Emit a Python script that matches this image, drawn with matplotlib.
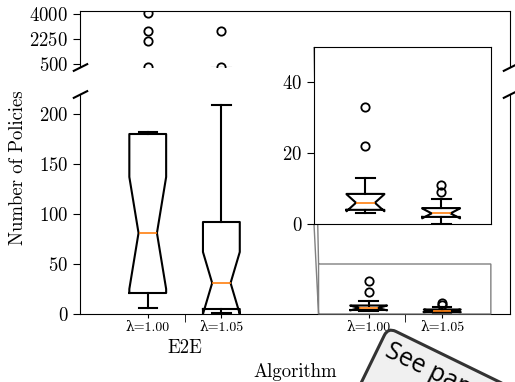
import numpy as np
import matplotlib
matplotlib.use("Agg")
import matplotlib.pyplot as plt
from matplotlib.transforms import blended_transform_factory

plt.rcParams['font.family'] = ['cmr10', 'DejaVu Serif']
plt.rcParams['mathtext.fontset'] = 'cm'
plt.rcParams['axes.formatter.use_mathtext'] = True

## data
positions = [1, 2, 4, 5]
tick_labels = ['λ=1.00', 'λ=1.05', 'λ=1.00', 'λ=1.05']
group_pos = [1.5, 4.5]
group_labels = ['E2E', '']

med = [81, 31, 6, 3]
q1 = [21, 5, 4, 2]
q3 = [180, 92, 8.5, 4.5]
whislo = [6, 1, 3, 0]
whishi = [182, 209, 13, 7]
cilo = [25, 0, 3.6, 1.6]
cihi = [137, 62, 8.4, 4.4]
fliers = [[4080, 2820, 2120, 260], [2830, 260], [22, 33], [9, 11]]

stats = []
for i in range(len(positions)):
    stats.append(dict(med=med[i], q1=q1[i], q3=q3[i], whislo=whislo[i], whishi=whishi[i],
                      cilo=cilo[i], cihi=cihi[i], fliers=np.array(fliers[i])))

W, H = 515, 382
fig = plt.figure(figsize=(W/100, H/100), dpi=100)
ax_top = fig.add_axes([80/W, 1-67/H, 430/W, 56/H])
ax_bot = fig.add_axes([80/W, 1-314/H, 430/W, 220/H])

lw = 1.5
bx_kw = dict(positions=positions, widths=0.5, shownotches=True,
             boxprops=dict(color='k', linewidth=lw),
             whiskerprops=dict(color='k', linewidth=lw),
             capprops=dict(color='k', linewidth=lw),
             medianprops=dict(color='#ff7f0e', linewidth=1.2),
             flierprops=dict(marker='o', markerfacecolor='none', markeredgecolor='k',
                             markersize=6, markeredgewidth=1.3))

for ax in (ax_top, ax_bot):
    ax.bxp(stats, **bx_kw)
    ax.set_xlim(0.08, 5.92)

ax_top.set_ylim(290, 4210)
ax_top.set_yticks([500, 2250, 4000])
ax_top.spines['bottom'].set_visible(False)
ax_top.tick_params(axis='x', which='both', bottom=False, labelbottom=False)
ax_top.tick_params(axis='y', labelsize=13.5, length=5)

ax_bot.set_ylim(0, 220)
ax_bot.set_yticks([0, 50, 100, 150, 200])
ax_bot.spines['top'].set_visible(False)
ax_bot.tick_params(axis='y', labelsize=13.5, length=5)
ax_bot.set_xticks(positions)
ax_bot.set_xticklabels(tick_labels, fontsize=10)
ax_bot.set_xticks(group_pos, minor=True)
ax_bot.tick_params(axis='x', which='major', length=3, pad=3)
ax_bot.tick_params(axis='x', which='minor', length=6)

# break marks
d = 0.5
kw = dict(marker=[(-1, -d), (1, d)], markersize=11, linestyle='none',
          color='k', mec='k', mew=1.5, clip_on=False)
ax_top.plot([0, 1], [0, 0], transform=ax_top.transAxes, **kw)
ax_bot.plot([0, 1], [1, 1], transform=ax_bot.transAxes, **kw)

# zoomed inset
axins = fig.add_axes([314/W, 1-224/H, 177/W, 177/H])
axins.bxp(stats, **bx_kw)
axins.set_xlim(3.32, 5.66)
axins.set_ylim(0, 50)
axins.set_yticks([0, 20, 40])
axins.tick_params(axis='x', bottom=False, labelbottom=False)
axins.tick_params(axis='y', labelsize=13.5, length=5)
ax_bot.indicate_inset_zoom(axins, edgecolor='0.45', alpha=0.9, linewidth=1.0)

trans = blended_transform_factory(ax_bot.transData, fig.transFigure)
for gp, gl in zip(group_pos, group_labels):
    ax_bot.text(gp, 1-348/H, gl, transform=trans, ha='center', va='center', fontsize=13.5)

fig.text(295/W, 1-372/H, 'Algorithm', ha='center', va='center', fontsize=13.5)
fig.text(18/W, 1-168/H, 'Number of Policies', ha='center', va='center',
         rotation=90, fontsize=13.5)

# sticker
fig.text(392/W, 1-339/H, 'See paper\n ', rotation=-26, rotation_mode='anchor',
         ha='left', va='top', fontsize=18, family='Open Sans', linespacing=1.3,
         bbox=dict(boxstyle='round,pad=0.34', fc='#f0f0f0', ec='#333333', lw=2.2))

fig.savefig('out.png', dpi=100)
